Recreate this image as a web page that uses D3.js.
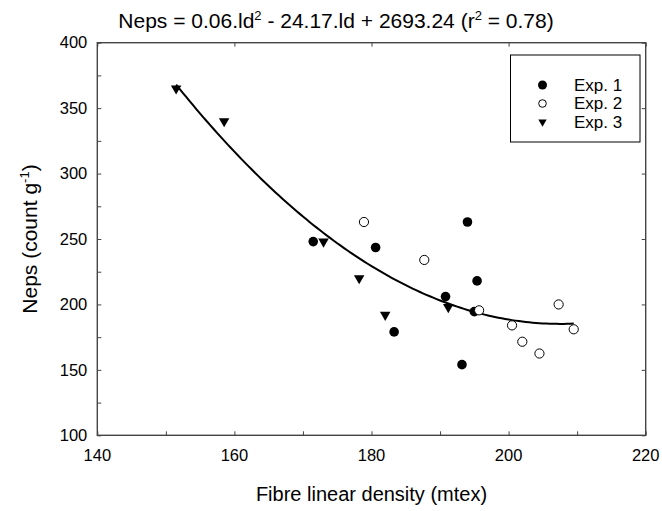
<!DOCTYPE html>
<html>
<head>
<meta charset="utf-8">
<script src="https://cdn.jsdelivr.net/npm/d3@7"></script>
<style>
  body { margin: 0; background: #fff; }
  svg text { font-family: "Liberation Sans", Arial, sans-serif; fill: #000; }
</style>
</head>
<body>
<div id="chart"></div>
<script>
////////////////////////////////////////// Data //////////////////////////////////////////
// Exp. 1 (filled circles)
const exp1X = [171.5, 180.6, 183.3, 190.8, 193.2, 194.0, 195.0, 195.4];
const exp1Y = [248, 243.5, 179, 206, 154, 263, 194.5, 218];
// Exp. 2 (open circles)
const exp2X = [178.9, 187.7, 195.7, 200.5, 202.0, 204.5, 207.3, 209.5];
const exp2Y = [263, 234, 195.5, 184, 171.5, 162.5, 200, 181];
// Exp. 3 (triangles)
const exp3X = [151.5, 158.5, 173.0, 178.2, 182.0, 191.2];
const exp3Y = [365, 340, 248, 220, 192, 198];

// quadratic fit: c0 + c1*ld + c2*ld^2
const fitCoef = [2693.24, -24.17, 0.05823];
const fitRange = [151.5, 209.5];

const xTicks = [140, 160, 180, 200, 220];
const yTicks = [100, 150, 200, 250, 300, 350, 400];
const legendNames = ["Exp. 1", "Exp. 2", "Exp. 3"];

////////////////////////////////////////// Set-up //////////////////////////////////////////
const W = 662, H = 511;
const margin = {left: 97.3, top: 42.7, right: 16.3, bottom: 75.7},
    width = W - margin.left - margin.right,
    height = H - margin.top - margin.bottom;

const x = d3.scaleLinear().domain([140, 220]).range([0, width]);
const y = d3.scaleLinear().domain([100, 400]).range([height, 0]);

const svg = d3.select("#chart").append("svg")
    .attr("width", W)
    .attr("height", H);

const g = svg.append("g")
    .attr("transform", "translate(" + margin.left + "," + margin.top + ")");

////////////////////////////////////////// Axes //////////////////////////////////////////
const frameColor = "#444";

// bottom: ticks every 10, inward
g.append("g")
    .attr("transform", "translate(0," + height + ")")
    .call(d3.axisBottom(x).tickValues(d3.range(140, 221, 10)).tickSizeInner(-4).tickSizeOuter(0).tickFormat(""))
    .call(a => a.select(".domain").remove());

// labels under bottom axis
g.selectAll(".xlab")
  .data(xTicks)
  .enter().append("text")
    .attr("class", "xlab")
    .attr("x", d => x(d))
    .attr("y", height + 26)
    .attr("text-anchor", "middle")
    .style("font-size", "16.5px")
    .text(d => d);

// top: ticks every 20
g.append("g")
    .call(d3.axisTop(x).tickValues(xTicks).tickSizeInner(-4).tickSizeOuter(0).tickFormat(""))
    .call(a => a.select(".domain").remove());

// left: ticks every 25
g.append("g")
    .call(d3.axisLeft(y).tickValues(d3.range(100, 401, 25)).tickSizeInner(-4).tickSizeOuter(0).tickFormat(""))
    .call(a => a.select(".domain").remove());

g.selectAll(".ylab")
  .data(yTicks)
  .enter().append("text")
    .attr("class", "ylab")
    .attr("x", -10)
    .attr("y", d => y(d))
    .attr("dy", "0.35em")
    .attr("text-anchor", "end")
    .style("font-size", "16.5px")
    .text(d => d);

// right: ticks every 50
g.append("g")
    .attr("transform", "translate(" + width + ",0)")
    .call(d3.axisRight(y).tickValues(yTicks).tickSizeInner(-4).tickSizeOuter(0).tickFormat(""))
    .call(a => a.select(".domain").remove());

g.selectAll(".tick line").attr("stroke", frameColor);

// frame
g.append("rect")
    .attr("width", width)
    .attr("height", height)
    .attr("fill", "none")
    .attr("stroke", frameColor)
    .attr("stroke-width", 1.4);

////////////////////////////////////////// Fit curve //////////////////////////////////////////
const fit = ld => fitCoef[0] + fitCoef[1] * ld + fitCoef[2] * ld * ld;
const curveX = d3.range(fitRange[0], fitRange[1] + 0.01, 0.5);

g.append("path")
    .datum(curveX)
    .attr("fill", "none")
    .attr("stroke", "#000")
    .attr("stroke-width", 2)
    .attr("d", d3.line().x(d => x(d)).y(d => y(fit(d))));

////////////////////////////////////////// Points //////////////////////////////////////////
const tri = d3.symbol().type(d3.symbolTriangle).size(48);

g.selectAll(".e1")
  .data(d3.zip(exp1X, exp1Y))
  .enter().append("circle")
    .attr("class", "e1")
    .attr("cx", d => x(d[0]))
    .attr("cy", d => y(d[1]))
    .attr("r", 4.8)
    .attr("fill", "#000");

g.selectAll(".e2")
  .data(d3.zip(exp2X, exp2Y))
  .enter().append("circle")
    .attr("class", "e2")
    .attr("cx", d => x(d[0]))
    .attr("cy", d => y(d[1]))
    .attr("r", 4.6)
    .attr("fill", "#fff")
    .attr("stroke", "#000")
    .attr("stroke-width", 1);

g.selectAll(".e3")
  .data(d3.zip(exp3X, exp3Y))
  .enter().append("path")
    .attr("class", "e3")
    .attr("d", tri)
    .attr("transform", d => "translate(" + x(d[0]) + "," + y(d[1]) + ") rotate(180)")
    .attr("fill", "#000");

////////////////////////////////////////// Legend //////////////////////////////////////////
const legend = svg.append("g").attr("transform", "translate(510.5,55)");

legend.append("rect")
    .attr("width", 129.5)
    .attr("height", 87)
    .attr("fill", "#fff")
    .attr("stroke", "#000")
    .attr("stroke-width", 1);

const rows = legend.selectAll(".row")
  .data(legendNames)
  .enter().append("g")
    .attr("class", "row")
    .attr("transform", (d, i) => "translate(32," + (30 + i * 18.5) + ")");

rows.each(function(d, i) {
  const r = d3.select(this);
  if (i === 0) r.append("circle").attr("r", 4.5).attr("fill", "#000");
  if (i === 1) r.append("circle").attr("r", 3.8).attr("fill", "#fff").attr("stroke", "#000");
  if (i === 2) r.append("path").attr("d", d3.symbol().type(d3.symbolTriangle).size(30)).attr("transform", "rotate(180)").attr("fill", "#000");
});

rows.append("text")
    .attr("x", 31.5)
    .attr("dy", "0.35em")
    .style("font-size", "17px")
    .text(d => d);

////////////////////////////////////////// Titles //////////////////////////////////////////
const title = svg.append("text")
    .attr("x", 336)
    .attr("y", 28)
    .attr("text-anchor", "middle")
    .style("font-size", "21px");
title.append("tspan").text("Neps = 0.06.ld");
title.append("tspan").attr("dy", -8).style("font-size", "13px").text("2");
title.append("tspan").attr("dy", 8).text(" - 24.17.ld + 2693.24 (r");
title.append("tspan").attr("dy", -8).style("font-size", "13px").text("2");
title.append("tspan").attr("dy", 8).text(" = 0.78)");

svg.append("text")
    .attr("x", margin.left + width / 2)
    .attr("y", 501)
    .attr("text-anchor", "middle")
    .style("font-size", "20px")
    .text("Fibre linear density (mtex)");

const yTitle = svg.append("text")
    .attr("transform", "translate(37," + (margin.top + height / 2) + ") rotate(-90)")
    .attr("text-anchor", "middle")
    .style("font-size", "21px");
yTitle.append("tspan").text("Neps (count g");
yTitle.append("tspan").attr("dy", -8).style("font-size", "13px").text("-1");
yTitle.append("tspan").attr("dy", 8).text(")");
</script>
</body>
</html>
